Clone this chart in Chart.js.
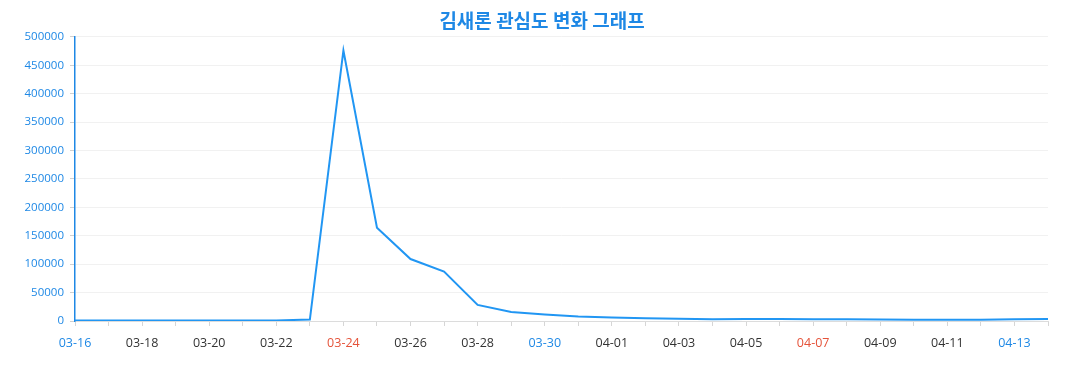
<!DOCTYPE html>
<html>
<head>
<meta charset="utf-8">
<script src="https://cdn.jsdelivr.net/npm/chart.js@4"></script>
<style>
  html, body { margin: 0; padding: 0; background: #ffffff; }
  #wrap { width: 1077px; height: 390px; position: relative; }
</style>
</head>
<body>
<div id="wrap"><canvas id="c"></canvas></div>
<script>
const titleText = '김새론 관심도 변화 그래프';

const dates = ['03-16','03-17','03-18','03-19','03-20','03-21','03-22','03-23','03-24','03-25',
               '03-26','03-27','03-28','03-29','03-30','03-31','04-01','04-02','04-03','04-04',
               '04-05','04-06','04-07','04-08','04-09','04-10','04-11','04-12','04-13','04-14'];

const interest = [900, 800, 700, 700, 700, 800, 1000, 2500, 476000, 164000,
                  109000, 87000, 28300, 16000, 11500, 8000, 6000, 5000, 3800, 3200,
                  3300, 3300, 3200, 3200, 2800, 2400, 2100, 2100, 3000, 3500];

const yTicks = [0, 50000, 100000, 150000, 200000, 250000, 300000, 350000, 400000, 450000, 500000];

const blueDays = ['03-16', '03-30', '04-13'];
const redDays = ['03-24', '04-07'];

const BLUE = '#1e88e5';
const LINE = '#2196f3';
const RED = '#e5533a';
const DARK = '#333333';

new Chart(document.getElementById('c'), {
  type: 'line',
  data: {
    labels: dates,
    datasets: [{
      data: interest,
      borderColor: LINE,
      borderWidth: 2,
      pointRadius: 0,
      pointHoverRadius: 0,
      tension: 0,
      fill: false,
      yAxisID: 'y'
    }]
  },
  options: {
    responsive: true,
    maintainAspectRatio: false,
    animation: false,
    layout: { padding: { left: 7, right: 0, top: 0, bottom: 0 } },
    plugins: {
      legend: { display: false },
      tooltip: { enabled: false },
      title: {
        display: true,
        text: titleText,
        color: BLUE,
        font: { family: '"Noto Sans CJK KR", "Noto Sans", sans-serif', size: 19, weight: 'bold' },
        padding: { top: 9, bottom: 5 }
      }
    },
    scales: {
      x: {
        type: 'category',
        offset: false,
        grid: {
          display: true,
          drawOnChartArea: false,
          drawTicks: true,
          tickLength: 5,
          tickColor: '#d6d6d6'
        },
        border: { display: true, color: '#dcdcdc', width: 1 },
        ticks: {
          autoSkip: false,
          maxRotation: 0,
          minRotation: 0,
          padding: 10,
          font: { family: '"Open Sans", "Noto Sans", sans-serif', size: 12.5 },
          color: (ctx) => {
            const d = dates[ctx.index];
            if (blueDays.includes(d)) return BLUE;
            if (redDays.includes(d)) return RED;
            return DARK;
          },
          callback: function (value, index) {
            return index % 2 === 0 ? dates[index] : '';
          }
        },
        afterFit: (scale) => { scale.height = 69; }
      },
      y: {
        position: 'left',
        min: yTicks[0],
        max: yTicks[yTicks.length - 1],
        afterBuildTicks: (scale) => { scale.ticks = yTicks.map(v => ({ value: v })); },
        grid: {
          color: '#f1f1f1',
          lineWidth: 1,
          drawTicks: true,
          tickLength: 5,
          tickColor: '#d0d0d0'
        },
        border: { display: true, color: BLUE, width: 1.5 },
        ticks: {
          padding: 6,
          font: { family: '"Open Sans", "Noto Sans", sans-serif', size: 11.5 },
          color: BLUE,
          callback: (v) => String(v)
        },
        afterFit: (scale) => { scale.width = 68; }
      },
      yRight: {
        position: 'right',
        display: true,
        min: yTicks[0],
        max: yTicks[yTicks.length - 1],
        grid: { display: false, drawTicks: false },
        border: { display: false },
        ticks: { display: false },
        afterFit: (scale) => { scale.width = 29; }
      }
    }
  }
});
</script>
</body>
</html>
